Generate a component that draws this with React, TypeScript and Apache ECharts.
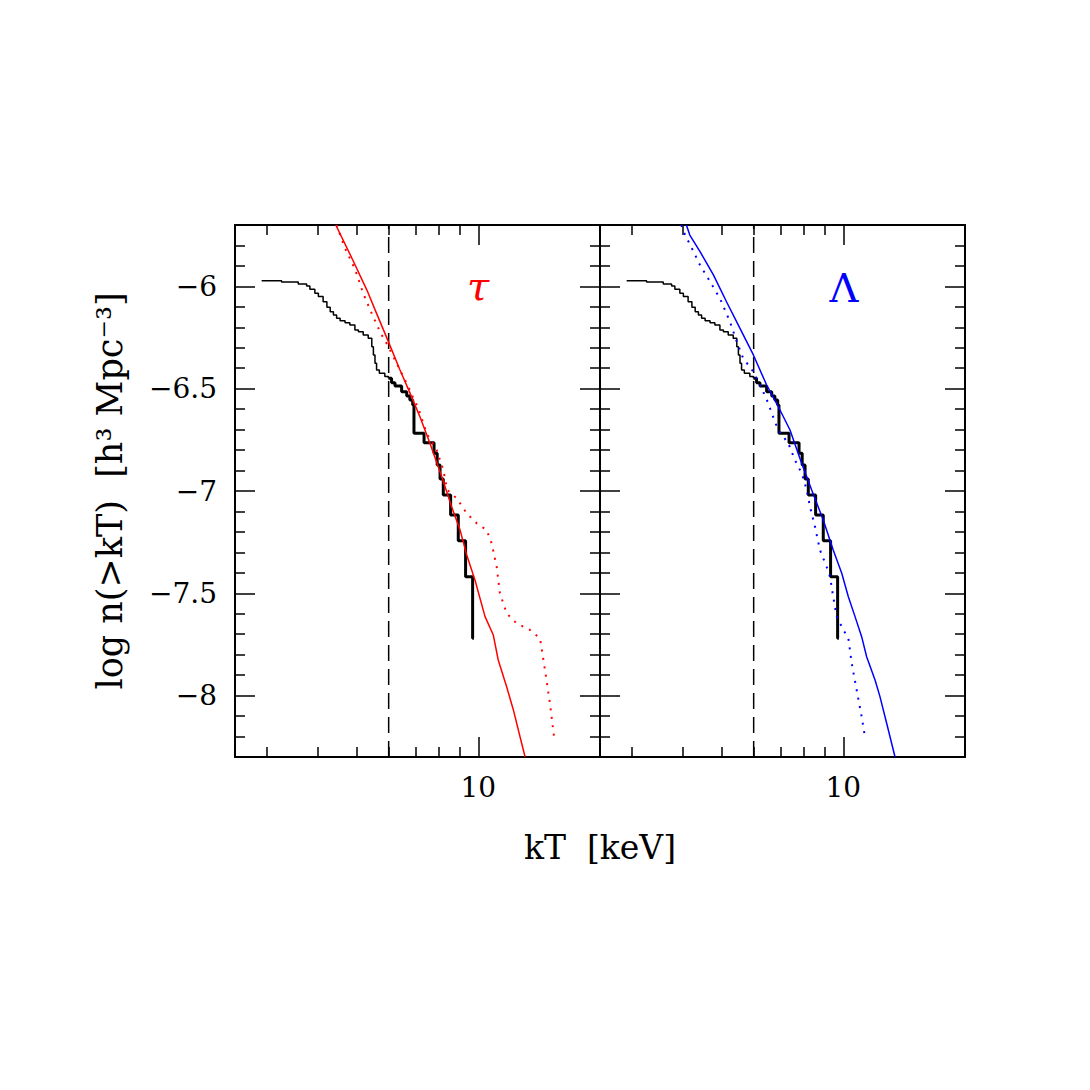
import React, { useEffect, useRef } from 'react';
import * as echarts from 'echarts';

// ---- axis ranges (kT in keV, log n) ----
const kTMin = 2.5;
const kTMax = 20;
const logNMin = -8.3;
const logNMax = -5.7;
const thresholdKT = 6;

// ---- tick values ----
const xMinorTickKT = [3, 4, 5, 6, 7, 8, 9];
const xMajorTickKT = [10];
const yMajorTicks = [-8, -7.5, -7, -6.5, -6];
const yMinorTicks = [-8.2, -8.1, -7.9, -7.8, -7.7, -7.6, -7.4, -7.3, -7.2, -7.1, -6.9, -6.8, -6.7, -6.6, -6.4, -6.3, -6.2, -6.1, -5.9, -5.8];

// ---- observed cumulative temperature function (step) ----
const obsThinKT = [2.91, 3.26, 3.585, 3.76, 3.83, 3.94, 4.02, 4.13, 4.22, 4.3, 4.38, 4.46, 4.55, 4.68, 4.81, 4.95, 5.05, 5.19, 5.34, 5.45, 5.5, 5.55, 5.6, 5.69, 5.87, 5.99];
const obsThinLogN = [-5.972, -5.979, -5.988, -5.998, -6.014, -6.034, -6.05, -6.075, -6.102, -6.124, -6.14, -6.156, -6.168, -6.178, -6.189, -6.213, -6.222, -6.238, -6.254, -6.295, -6.335, -6.376, -6.409, -6.425, -6.441, -6.449];
const obsThickKT = [5.99, 6.1, 6.22, 6.46, 6.65, 6.77, 6.88, 6.93, 7.34, 7.77, 7.91, 8.04, 8.19, 8.54, 8.92, 9.3, 9.68, 9.75];
const obsThickLogN = [-6.449, -6.471, -6.487, -6.515, -6.536, -6.555, -6.58, -6.718, -6.764, -6.816, -6.873, -6.941, -7.02, -7.117, -7.243, -7.419, -7.72, -7.72];

// ---- tau model (left panel) ----
const tauSolidKT = [4.44, 4.89, 5.3, 5.6, 5.99, 6.4, 6.78, 7.17, 7.59, 8.12, 8.59, 9.01, 9.36, 9.81, 10.39, 10.89, 11.2, 11.75, 12.21, 12.68, 13.05];
const tauSolidLogN = [-5.7, -5.871, -6.018, -6.132, -6.27, -6.409, -6.523, -6.637, -6.767, -6.93, -7.077, -7.19, -7.313, -7.435, -7.614, -7.704, -7.826, -7.957, -8.07, -8.201, -8.299];
const tauDottedKT = [4.46, 4.68, 4.95, 5.19, 5.4, 5.71, 5.99, 6.34, 6.71, 6.89, 7.1, 7.45, 7.89, 8.04, 8.19, 8.38, 8.84, 9.36, 9.91, 10.49, 10.79, 11.1, 11.31, 11.75, 12.44, 13.42, 14.21, 14.62, 15.04, 15.39];
const tauDottedLogN = [-5.7, -5.814, -5.915, -6.034, -6.115, -6.222, -6.295, -6.393, -6.49, -6.541, -6.594, -6.718, -6.8, -6.849, -6.897, -6.995, -7.036, -7.109, -7.158, -7.191, -7.256, -7.37, -7.5, -7.598, -7.647, -7.679, -7.72, -7.875, -8.038, -8.201];

// ---- Lambda model (right panel) ----
const lamSolidKT = [4.09, 4.17, 4.42, 4.77, 5.14, 5.55, 5.99, 6.46, 6.97, 7.38, 7.89, 8.35, 8.92, 9.44, 9.91, 10.29, 10.69, 11.1, 11.42, 11.98, 12.32, 12.8, 13.42];
const lamSolidLogN = [-5.7, -5.749, -5.83, -5.944, -6.075, -6.205, -6.335, -6.482, -6.604, -6.702, -6.865, -6.995, -7.142, -7.288, -7.402, -7.517, -7.614, -7.712, -7.81, -7.924, -8.005, -8.135, -8.299];
const lamDottedKT = [3.97, 4.06, 4.22, 4.42, 4.68, 4.95, 5.24, 5.45, 5.65, 5.99, 6.28, 6.52, 6.65, 6.9, 7.31, 7.59, 7.89, 8.12, 8.27, 8.51, 8.75, 9.09, 9.27, 9.44, 9.63, 10.0, 10.29, 10.49, 10.79, 11.1, 11.31];
const lamDottedLogN = [-5.7, -5.749, -5.814, -5.896, -5.977, -6.058, -6.172, -6.27, -6.351, -6.417, -6.498, -6.571, -6.62, -6.702, -6.767, -6.849, -6.914, -6.995, -7.077, -7.175, -7.288, -7.37, -7.419, -7.517, -7.614, -7.679, -7.72, -7.842, -7.973, -8.103, -8.201];

const FONT = '"DejaVu Serif", serif';
const RED = '#ff0000';
const BLUE = '#0000ff';

const lg = (v: number) => Math.log10(v);
const pairs = (kt: number[], ln: number[]) => kt.map((k, i) => [lg(k), ln[i]]);
const minus = (v: number) => String(v).replace('-', '\u2212');

function xAxes(gi: number) {
  const base = (position: string, values: number[], len: number, label: boolean, line: boolean) => ({
    type: 'value',
    gridIndex: gi,
    position,
    min: lg(kTMin),
    max: lg(kTMax),
    splitLine: { show: false },
    axisLine: { show: line, onZero: false, lineStyle: { color: '#000', width: 2 } },
    axisTick: {
      show: true,
      inside: true,
      length: len,
      customValues: values.map(lg),
      lineStyle: { color: '#000', width: 1.5 },
    },
    axisLabel: label
      ? {
          show: true,
          customValues: values.map(lg),
          formatter: (v: number) => String(Math.round(Math.pow(10, v))),
          fontFamily: FONT,
          fontSize: 28,
          color: '#000',
          margin: 16,
        }
      : { show: false },
  });
  return [
    base('bottom', xMinorTickKT, 10, false, true),
    base('bottom', xMajorTickKT, 20, true, false),
    base('top', xMinorTickKT, 10, false, true),
    base('top', xMajorTickKT, 20, false, false),
  ];
}

function yAxes(gi: number, showLabels: boolean) {
  const base = (position: string, values: number[], len: number, label: boolean, line: boolean) => ({
    type: 'value',
    gridIndex: gi,
    position,
    min: logNMin,
    max: logNMax,
    splitLine: { show: false },
    axisLine: { show: line, onZero: false, lineStyle: { color: '#000', width: 2 } },
    axisTick: {
      show: true,
      inside: true,
      length: len,
      customValues: values,
      lineStyle: { color: '#000', width: 1.5 },
    },
    axisLabel: label
      ? {
          show: true,
          customValues: values,
          formatter: (v: number) => minus(v),
          fontFamily: FONT,
          fontSize: 28,
          color: '#000',
          margin: 18,
        }
      : { show: false },
  });
  return [
    base('left', yMinorTicks, 10, false, true),
    base('left', yMajorTicks, 20, showLabels, false),
    base('right', yMinorTicks, 10, false, true),
    base('right', yMajorTicks, 20, false, false),
  ];
}

function panelSeries(gi: number, solidKT: number[], solidLogN: number[], dotKT: number[], dotLogN: number[], color: string) {
  const ax = { xAxisIndex: gi * 4, yAxisIndex: gi * 4 };
  const common = { type: 'line', symbol: 'none', silent: true, ...ax };
  return [
    {
      ...common,
      name: 'threshold' + gi,
      data: [[lg(thresholdKT), logNMin], [lg(thresholdKT), logNMax]],
      lineStyle: { color: '#000', width: 1.5, type: [16, 8] },
    },
    {
      ...common,
      name: 'obsThin' + gi,
      step: 'end',
      data: pairs(obsThinKT, obsThinLogN),
      lineStyle: { color: '#000', width: 1.5 },
    },
    {
      ...common,
      name: 'obsThick' + gi,
      step: 'end',
      data: pairs(obsThickKT, obsThickLogN),
      lineStyle: { color: '#000', width: 3 },
    },
    {
      ...common,
      name: 'solid' + gi,
      data: pairs(solidKT, solidLogN),
      lineStyle: { color, width: 1.5 },
    },
    {
      ...common,
      name: 'dotted' + gi,
      data: pairs(dotKT, dotLogN),
      lineStyle: { color, width: 2, type: [2, 6.5] },
    },
  ];
}

export default function App() {
  const ref = useRef<HTMLDivElement>(null);
  useEffect(() => {
    if (!ref.current) return;
    const chart = echarts.init(ref.current, undefined, { renderer: 'svg' });
    const option: any = {
      animation: false,
      backgroundColor: '#ffffff',
      grid: [
        { left: 235, top: 225, width: 365, height: 532 },
        { left: 600, top: 225, width: 365, height: 532 },
      ],
      xAxis: [...xAxes(0), ...xAxes(1)],
      yAxis: [...yAxes(0, true), ...yAxes(1, false)],
      series: [
        ...panelSeries(0, tauSolidKT, tauSolidLogN, tauDottedKT, tauDottedLogN, RED),
        ...panelSeries(1, lamSolidKT, lamSolidLogN, lamDottedKT, lamDottedLogN, BLUE),
      ],
      graphic: [
        {
          type: 'text',
          x: 600,
          y: 847,
          style: {
            text: 'kT  [keV]',
            font: '33px ' + FONT,
            fill: '#000',
            align: 'center',
            verticalAlign: 'middle',
            textAlign: 'center',
            textVerticalAlign: 'middle',
          },
        },
        {
          type: 'text',
          x: 110,
          y: 491,
          rotation: Math.PI / 2,
          style: {
            text: 'log n(>kT)  [h\u00b3 Mpc\u207b\u00b3]',
            font: '35px ' + FONT,
            fill: '#000',
            align: 'center',
            verticalAlign: 'middle',
            textAlign: 'center',
            textVerticalAlign: 'middle',
          },
        },
        {
          type: 'text',
          x: 478,
          y: 286,
          style: {
            text: '\u03c4',
            font: 'italic 40px ' + FONT,
            fill: RED,
            align: 'center',
            verticalAlign: 'middle',
            textAlign: 'center',
            textVerticalAlign: 'middle',
          },
        },
        {
          type: 'text',
          x: 844,
          y: 288,
          style: {
            text: '\u039b',
            font: '40px ' + FONT,
            fill: BLUE,
            align: 'center',
            verticalAlign: 'middle',
            textAlign: 'center',
            textVerticalAlign: 'middle',
          },
        },
      ],
    };
    chart.setOption(option);
    return () => chart.dispose();
  }, []);
  return (
    <div
      ref={ref}
      style={{ position: 'absolute', left: 0, top: 0, width: 1090, height: 1090, background: '#fff' }}
    />
  );
}
